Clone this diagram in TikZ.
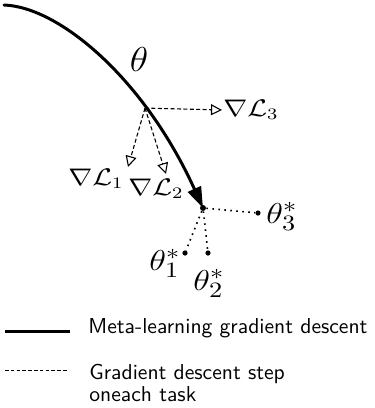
\documentclass[tikz,border=0pt]{standalone}
\usepackage{graphicx}
\usetikzlibrary{arrows.meta}
\newcommand\hstretch[2]{\scalebox{#1}[1]{#2}}
\begin{document}
\begin{tikzpicture}[x=0.5pt,y=-0.5pt,
  metaline/.style={line width=1.5pt,line cap=round},
  taskarrow/.style={line width=0.55pt,dash pattern=on 2pt off 1.2pt,
     -{Triangle[open,length=5.5pt,width=5.5pt]}},
  optline/.style={line width=0.8pt,dash pattern=on 0.8pt off 2.2pt},
  optdot/.style={circle,fill=black,inner sep=0pt,minimum size=2.6pt},
  mlabel/.style={inner sep=0pt,anchor=base,font=\fontsize{12}{13}\selectfont},
  slabel/.style={inner sep=0pt,anchor=base,font=\fontsize{15}{16}\selectfont},
  legtext/.style={inner sep=0pt,anchor=base west,align=left,
     font=\sffamily\fontsize{10.8}{10.9}\selectfont}]
\useasboundingbox (0,0) rectangle (375,408);
% main meta-learning path
\coordinate (S) at (4,5);
\node[optdot,minimum size=3pt] (E) at (203,208) {};
\draw[metaline,-{Triangle[length=10.5pt,width=7pt]}] (S) .. controls (60,7) and (145,80) .. (E.center)
  coordinate[pos=0.7] (J);
\node[inner sep=0pt,anchor=base,font=\fontsize{17}{19}\selectfont] (th) at (139,71) {\hstretch{1.1}{$\theta$}};
% gradient directions
\coordinate (A1) at (128,167);
\coordinate (A2) at (166,174);
\coordinate (A3) at (222,110);
\draw[taskarrow] (J) -- (A1);
\draw[taskarrow] (J) -- (A2);
\draw[taskarrow] (J) -- (A3);
\node[mlabel] (L1) at (96,185) {\hstretch{1.2}{$\nabla\mathcal{L}_1$}};
\node[mlabel] (L2) at (156,195) {\hstretch{1.2}{$\nabla\mathcal{L}_2$}};
\node[mlabel] (L3) at (251,116) {\hstretch{1.2}{$\nabla\mathcal{L}_3$}};
% task optima
\node[optdot] (T1) at (185,253) {};
\node[optdot] (T2) at (208,253) {};
\node[optdot] (T3) at (258,213) {};
\draw[optline] (E) -- (T1);
\draw[optline] (E) -- (T2);
\draw[optline] (E) -- (T3);
\node[slabel] (t1) at (165,270) {\hstretch{1.2}{$\theta_1^{*}$}};
\node[slabel] (t2) at (209,290) {\hstretch{1.2}{$\theta_2^{*}$}};
\node[slabel] (t3) at (282,223) {\hstretch{1.2}{$\theta_3^{*}$}};
% legend
\coordinate (la) at (5,331.5);
\coordinate (lb) at (70,331.5);
\draw[line width=1.6pt] (la) -- (lb);
\node[legtext] (lt1) at (88,333) {Meta-learning gradient descent};
\coordinate (lc) at (5,370.7);
\coordinate (ld) at (68,370.7);
\draw[line width=0.5pt,dash pattern=on 1.8pt off 1.1pt] (lc) -- (ld);
\node[legtext] (lt2) at (89,401.7) {Gradient descent step\\oneach task};
\end{tikzpicture}
\end{document}
